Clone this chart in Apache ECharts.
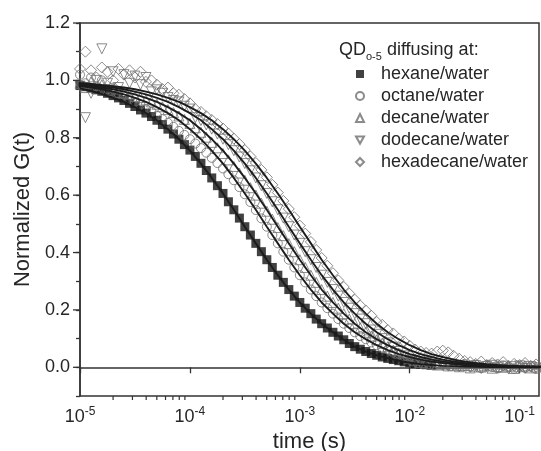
<!DOCTYPE html>
<html><head><meta charset="utf-8">
<script src="https://cdn.jsdelivr.net/npm/echarts@6/dist/echarts.min.js"></script>
<style>html,body{margin:0;padding:0;background:#fff}#c{width:541px;height:451px}</style>
</head><body><div id="c"></div>
<script>
// ---- data ----
const lagTime = [
1.00e-5,1.12e-5,1.26e-5,1.41e-5,1.58e-5,1.78e-5,2.00e-5,2.24e-5,2.51e-5,2.82e-5,3.16e-5,3.55e-5,3.98e-5,4.47e-5,5.01e-5,5.62e-5,6.31e-5,7.08e-5,7.94e-5,8.91e-5,
1.00e-4,1.12e-4,1.26e-4,1.41e-4,1.58e-4,1.78e-4,2.00e-4,2.24e-4,2.51e-4,2.82e-4,3.16e-4,3.55e-4,3.98e-4,4.47e-4,5.01e-4,5.62e-4,6.31e-4,7.08e-4,7.94e-4,8.91e-4,
1.00e-3,1.12e-3,1.26e-3,1.41e-3,1.58e-3,1.78e-3,2.00e-3,2.24e-3,2.51e-3,2.82e-3,3.16e-3,3.55e-3,3.98e-3,4.47e-3,5.01e-3,5.62e-3,6.31e-3,7.08e-3,7.94e-3,8.91e-3,
1.00e-2,1.12e-2,1.26e-2,1.41e-2,1.58e-2,1.78e-2,2.00e-2,2.24e-2,2.51e-2,2.82e-2,3.16e-2,3.55e-2,3.98e-2,4.47e-2,5.01e-2,5.62e-2,6.31e-2,7.08e-2,7.94e-2,8.91e-2,
1.00e-1,1.12e-1,1.26e-1,1.41e-1];

const hexane = [
.982,.978,.973,.968,.962,.955,.947,.939,.930,.920,
.909,.897,.886,.874,.861,.846,.830,.813,.795,.776,
.757,.735,.711,.686,.660,.633,.606,.577,.549,.520,
.490,.461,.432,.403,.375,.348,.321,.296,.271,.248,
.226,.206,.187,.168,.152,.137,.122,.109,.096,.083,
.072,.063,.055,.048,.042,.036,.031,.027,.023,.019,
.016,.013,.011,.009,.007];

const octane = [
1.02,.99,1.01,.98,1.00,.97,.975,.955,.95,.935,
.925,.915,.90,.89,.877,.865,.852,.838,.824,.81,
.795,.78,.764,.748,.73,.712,.693,.673,.652,.628,
.603,.576,.548,.519,.49,.461,.432,.403,.375,.348,
.321,.296,.271,.248,.226,.206,.187,.168,.152,.137,
.122,.109,.098,.087,.077,.068,.062,.051,.048,.038,
.039,.027,.030,.020,.024,.013,.019,.008,.015,.004,
.012,.002,.009,-.003,.008,.001,-.004,.006,.000,-.005,
.004,-.002,.003,-.006];

const decane = [
.99,.975,.995,.97,.985,.965,.97,.958,.955,.95,
.944,.94,.932,.925,.917,.908,.898,.888,.876,.864,
.85,.835,.819,.802,.784,.765,.745,.723,.70,.677,
.652,.626,.60,.572,.544,.516,.487,.459,.431,.403,
.375,.348,.321,.296,.271,.248,.226,.206,.187,.168,
.152,.137,.122,.109,.096,.084,.072,.06,.049,.039,
.030,.023,.017,.014,.010,.008,.011,.005,.007,.002,
.006,-.002,.004,.001,.005,-.003,.003,.000,.004,-.004,
.002,.005,-.002,.001];

const dodecane = [
.98,.87,.955,1.00,1.11,.99,1.03,.975,1.02,.99,
1.015,.985,1.01,.96,.967,.955,.94,.93,.925,.91,
.90,.87,.86,.845,.83,.813,.795,.776,.755,.733,
.710,.685,.660,.633,.606,.577,.549,.520,.490,.461,
.432,.403,.375,.348,.321,.296,.271,.248,.226,.206,
.187,.168,.152,.13,.115,.10,.085,.07,.055,.04,
.022,.015,.012,.014,.008,.010,.006,.004,.008,.002,
.005,.000,.006,-.004,.003,.007,-.002,.004,-.006,.002,
.005,-.004,.003,-.002];

const hexadecane = [
1.04,1.10,1.035,1.01,1.045,1.03,1.00,1.04,1.02,1.035,
1.01,1.03,.995,1.00,.985,.97,.975,.955,.95,.935,
.92,.90,.89,.875,.862,.848,.832,.815,.797,.778,
.757,.735,.712,.688,.662,.636,.609,.58,.552,.523,
.494,.466,.437,.409,.381,.354,.328,.303,.28,.257,
.236,.215,.198,.18,.158,.148,.13,.118,.10,.09,
.075,.062,.055,.05,.048,.055,.058,.052,.04,.03,
.022,.018,.012,.02,.008,.015,.01,.018,.005,.012,
.008,.015,.005,.01];

const fitTime = [
1.00e-5,1.26e-5,1.58e-5,2.00e-5,2.51e-5,3.16e-5,3.98e-5,5.01e-5,6.31e-5,7.94e-5,
1.00e-4,1.26e-4,1.58e-4,2.00e-4,2.51e-4,3.16e-4,3.98e-4,5.01e-4,6.31e-4,7.94e-4,
1.00e-3,1.26e-3,1.58e-3,2.00e-3,2.51e-3,3.16e-3,3.98e-3,5.01e-3,6.31e-3,7.94e-3,
1.00e-2,1.26e-2,1.58e-2,2.00e-2,2.51e-2,3.16e-2,3.98e-2,5.01e-2,6.31e-2,7.94e-2,
1.00e-1,1.26e-1,1.58e-1];

const hexaneFit = [.972,.963,.952,.939,.925,.907,.886,.861,.830,.795,.755,.710,.660,.606,.549,.490,.432,.375,.321,.271,.226,.187,.152,.122,.096,.072,.055,.042,.032,.023,.016,.011,.008,.005,.004,.003,.002,.001,.001,0,0,0,0];
const octaneFit = [.980,.975,.969,.961,.951,.939,.925,.907,.886,.861,.830,.795,.755,.710,.660,.606,.549,.490,.432,.375,.321,.271,.226,.187,.152,.122,.098,.077,.060,.046,.036,.027,.020,.015,.011,.008,.006,.004,.003,.002,.002,.001,.001];
const decaneFit = [.984,.980,.975,.969,.961,.951,.939,.925,.907,.886,.861,.830,.795,.755,.710,.660,.606,.549,.490,.432,.375,.321,.271,.226,.187,.152,.122,.098,.077,.060,.046,.036,.027,.020,.015,.011,.008,.006,.004,.003,.002,.002,.001];
const dodecaneFit = [.988,.984,.980,.975,.969,.961,.951,.939,.925,.907,.886,.861,.830,.795,.755,.710,.660,.606,.549,.490,.432,.375,.321,.271,.226,.187,.152,.122,.098,.077,.060,.046,.036,.027,.020,.015,.011,.008,.006,.004,.003,.002,.002];
const hexadecaneFit = [.990,.988,.984,.980,.975,.969,.961,.951,.939,.925,.907,.886,.861,.830,.795,.755,.710,.660,.606,.549,.490,.432,.375,.321,.271,.226,.187,.152,.122,.098,.077,.060,.046,.036,.027,.020,.015,.011,.008,.006,.004,.003,.002];

const seriesNames = ['hexane/water','octane/water','decane/water','dodecane/water','hexadecane/water'];
const yMajorTicks = [0.0,0.2,0.4,0.6,0.8,1.0,1.2];
const xMinorTicks = [2e-5,3e-5,4e-5,5e-5,6e-5,7e-5,8e-5,9e-5,
  2e-4,3e-4,4e-4,5e-4,6e-4,7e-4,8e-4,9e-4,
  2e-3,3e-3,4e-3,5e-3,6e-3,7e-3,8e-3,9e-3,
  2e-2,3e-2,4e-2,5e-2,6e-2,7e-2,8e-2,9e-2];

// ---- chart ----
const FONT = '"Liberation Sans", Arial, sans-serif';
const TXT = '#262626';
const AX = '#333';
const DOWN_TRI = 'path://M0,0 L10,0 L5,9 Z';
const chart = echarts.init(document.getElementById('c'), null, {renderer: 'canvas'});
function pairs(ts, vs) { return vs.map((v, i) => [ts[i], v]); }
const openStyle = {color: 'rgba(0,0,0,0)', borderColor: '#6e6e6e', borderWidth: 1};

function scatter(name, vals, symbol, size, style) {
  return {name, type: 'scatter', data: pairs(lagTime, vals), symbol, symbolSize: size,
    itemStyle: style, z: 2, silent: true};
}
function fit(vals) {
  return {type: 'line', data: pairs(fitTime, vals), showSymbol: false, symbol: 'none',
    lineStyle: {color: '#1c1c1c', width: 1.9}, z: 3, silent: true, clip: true};
}

const option = {
  animation: false,
  backgroundColor: '#ffffff',
  textStyle: {fontFamily: FONT},
  grid: {left: 80, right: 2, top: 23, bottom: 55, show: true, borderColor: AX, borderWidth: 1.5,
    backgroundColor: 'transparent', containLabel: false, outerBoundsMode: 'none'},
  title: {
    text: '{a|QD}{s|o-5}{a| diffusing at:}', left: 334, top: 33,
    textStyle: {fontWeight: 'normal', rich: {
      a: {fontSize: 18, fontFamily: FONT, color: TXT, fontWeight: 'normal', lineHeight: 24},
      s: {fontSize: 11, fontFamily: FONT, color: TXT, fontWeight: 'normal', lineHeight: 12, verticalAlign: 'bottom'}
    }}
  },
  legend: {
    orient: 'vertical', left: 350, top: 60, itemWidth: 8, itemHeight: 8, itemGap: 4,
    selectedMode: false, data: seriesNames,
    textStyle: {fontSize: 18, fontFamily: FONT, color: TXT, padding: [0, 0, 0, 12]}
  },
  xAxis: {
    type: 'log', logBase: 10, min: 1e-5, max: 0.15,
    name: 'time (s)', nameLocation: 'middle', nameGap: 32,
    nameTextStyle: {fontSize: 22, fontFamily: FONT, color: TXT},
    axisLine: {show: true, lineStyle: {color: AX, width: 1.5}},
    axisTick: {show: true, inside: false, length: 6, lineStyle: {color: AX, width: 1.3}},
    splitLine: {show: false}, minorTick: {show: false}, minorSplitLine: {show: false},
    axisLabel: {
      margin: 10, color: TXT, showMaxLabel: false,
      formatter: function (v) {
        const e = Math.log10(v); const r = Math.round(e);
        if (Math.abs(e - r) > 1e-6) return '';
        return '{b|10}{s|' + r + '}';
      },
      rich: {
        b: {fontSize: 18, fontFamily: FONT, color: TXT, lineHeight: 22},
        s: {fontSize: 12, fontFamily: FONT, color: TXT, lineHeight: 12, verticalAlign: 'top'}
      }
    }
  },
  yAxis: {
    type: 'value', min: -0.1, max: 1.2, interval: 0.1,
    name: 'Normalized G(t)', nameLocation: 'middle', nameGap: 46,
    nameTextStyle: {fontSize: 22, fontFamily: FONT, color: TXT},
    axisLine: {show: true, lineStyle: {color: AX, width: 1.5}},
    axisTick: {show: true, inside: false, length: 4, lineStyle: {color: AX, width: 1.3}},
    splitLine: {show: false},
    axisLabel: {
      margin: 10, fontSize: 18, fontFamily: FONT, color: TXT,
      formatter: function (v) {
        const r = Math.round(v * 10);
        return (r % 2 === 0) ? (r / 10).toFixed(1) : '';
      }
    }
  },
  series: [
    scatter(seriesNames[0], hexane, 'rect', 9, {color: '#111', borderWidth: 0}),
    scatter(seriesNames[1], octane, 'circle', 9, openStyle),
    scatter(seriesNames[2], decane, 'triangle', 10, openStyle),
    scatter(seriesNames[3], dodecane, DOWN_TRI, 10, openStyle),
    scatter(seriesNames[4], hexadecane, 'diamond', 11, openStyle),
    fit(hexaneFit), fit(octaneFit), fit(decaneFit), fit(dodecaneFit), fit(hexadecaneFit),
    {
      type: 'custom', coordinateSystem: 'cartesian2d', silent: true, clip: false, z: 6,
      data: xMinorTicks.map(v => [v, -0.1]),
      renderItem: function (p, api) {
        const c = api.coord([api.value(0), api.value(1)]);
        return {type: 'line', shape: {x1: c[0], y1: c[1], x2: c[0], y2: c[1] + 4},
          style: {stroke: AX, lineWidth: 1.2}};
      }
    },
    {
      type: 'custom', coordinateSystem: 'cartesian2d', silent: true, clip: false, z: 6,
      data: yMajorTicks.map(v => [1e-5, v]),
      renderItem: function (p, api) {
        const c = api.coord([api.value(0), api.value(1)]);
        return {type: 'line', shape: {x1: c[0] - 7, y1: c[1], x2: c[0], y2: c[1]},
          style: {stroke: AX, lineWidth: 1.3}};
      }
    }
  ]
};
chart.setOption(option);
</script>
</body></html>
